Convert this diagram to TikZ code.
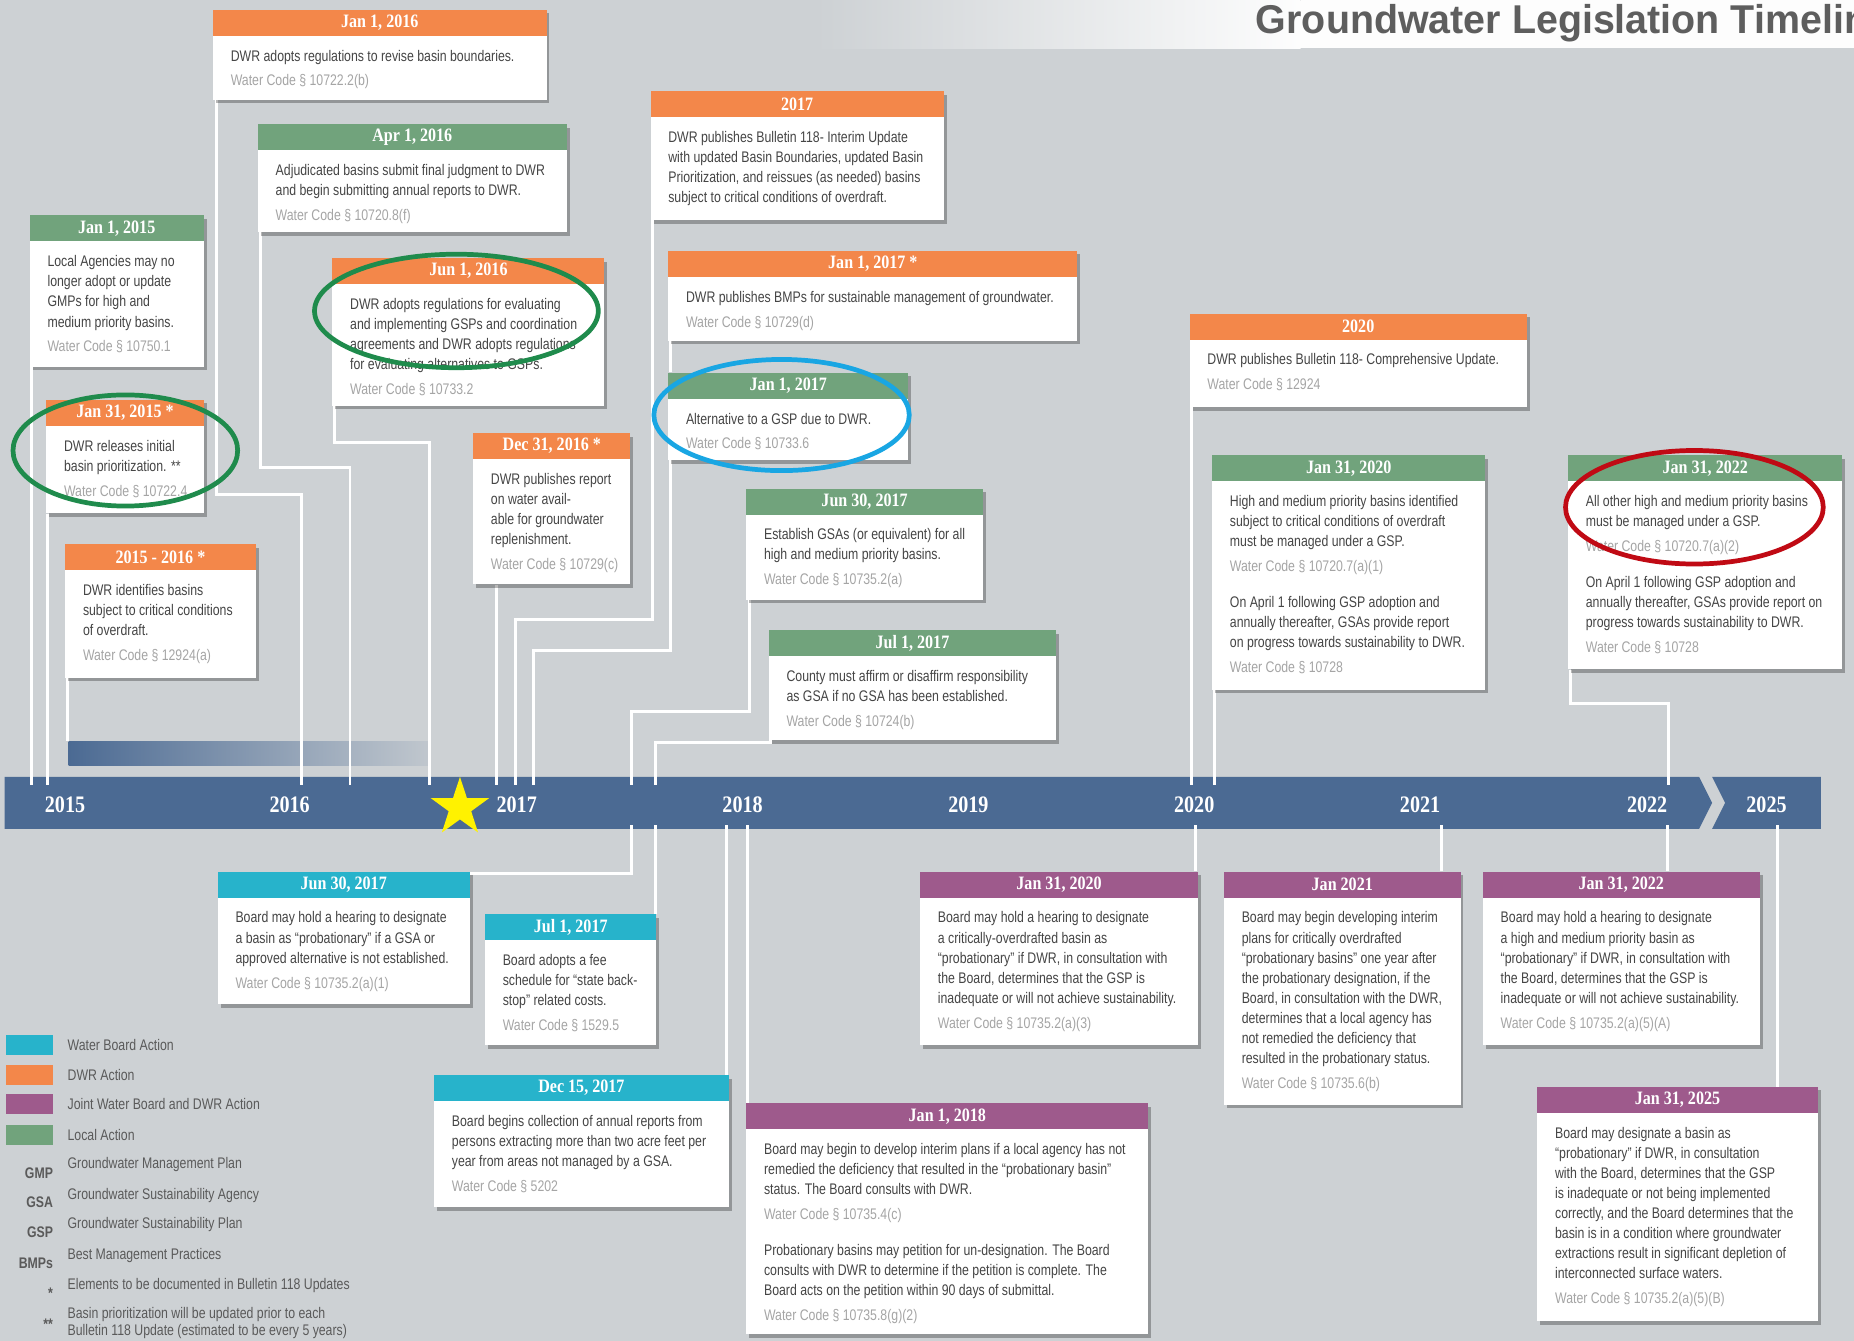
\documentclass[tikz,border=0pt]{standalone}
\usepackage{fontspec}
\setmainfont{Liberation Sans}
\newfontfamily\bodyfnt[FakeStretch=0.8]{Liberation Sans}
\newfontfamily\headfnt[FakeStretch=0.85]{Liberation Serif}
\newfontfamily\titlefnt[FakeStretch=0.98]{Liberation Sans}
\usetikzlibrary{shadows,shapes.geometric}
\pgfdeclarelayer{bgl}
\pgfdeclarelayer{conl}
\pgfsetlayers{bgl,conl,main}
\definecolor{bg}{HTML}{CDD1D4}
\definecolor{barblue}{HTML}{4B6A93}
\definecolor{cOr}{HTML}{F3874A}
\definecolor{cGr}{HTML}{71A37C}
\definecolor{cCy}{HTML}{27B3CB}
\definecolor{cPu}{HTML}{9E5A8C}
\definecolor{txtgray}{HTML}{454545}
\definecolor{codegray}{HTML}{A5A5A5}
\definecolor{leggray}{HTML}{5A5A5A}
\definecolor{titlegray}{HTML}{5E5E5E}
\definecolor{ringgreen}{HTML}{1F8B4C}
\definecolor{ringblue}{HTML}{19A6E3}
\definecolor{ringred}{HTML}{C00A14}
\definecolor{gold}{HTML}{FFF200}
\newcommand\cd[1]{\textcolor{codegray}{Water Code § #1}}
\tikzset{
  tlbody/.style={fill=white, inner sep=0pt, drop shadow={shadow xshift=2.5pt, shadow yshift=-3pt, fill=black, opacity=0.28}},
  tlhead/.style={inner sep=0pt, minimum height=22pt, text=white, font=\headfnt\bfseries\fontsize{16}{16}\selectfont},
  tltext/.style={inner sep=0pt, align=left, text=txtgray, font=\bodyfnt\fontsize{13}{17}\selectfont},
  conn/.style={draw=white, line width=2.5pt},
  yearlbl/.style={text=white, inner sep=0pt, font=\headfnt\bfseries\fontsize{20}{20}\selectfont},
  ring/.style={line width=4pt},
  swatch/.style={inner sep=0pt, minimum width=40pt, minimum height=17pt},
  legtext/.style={inner sep=0pt, align=left, text=leggray, font=\bodyfnt\fontsize{13}{14}\selectfont},
  abbr/.style={inner sep=0pt, text=leggray, font=\bodyfnt\bfseries\fontsize{13}{13}\selectfont}
}
\newcommand\tlbox[8]{%
  \node[tlbody, minimum width=#4pt, minimum height=#5pt, anchor=north west] (#1) at (#2,#3) {};
  \node[tlhead, fill=#6, minimum width=#4pt, anchor=north west] (#1h) at (#1.north west) {#7};
  \node[tltext, anchor=north west] (#1t) at ([xshift=15pt,yshift=-10pt]#1h.south west) {\rule{0pt}{11pt}#8};
}
\begin{document}
\begin{tikzpicture}[x=1pt,y=-1pt]
\begin{pgfonlayer}{bgl}
\fill[bg] (0,0) rectangle (1568,1134);
% banner
\shade[left color=bg, right color=white!96!bg] (690,0) rectangle (1100,41);
\fill[white!96!bg] (1100,0) rectangle (1568,41);
% period bar
\shade[left color=barblue, middle color=barblue!80!bg, right color=bg!90!barblue] (58,627) rectangle (362,647);
% timeline bar
\fill[barblue] (4,657) -- (1437,657) -- (1448,679) -- (1437,701) -- (4,701) -- cycle;
\fill[barblue] (1448,657) -- (1540,657) -- (1540,701) -- (1448,701) -- (1459,679) -- cycle;
\end{pgfonlayer}
\useasboundingbox (0,0) rectangle (1568,1134);
\begin{scope}
\clip (0,0) rectangle (1568,1134);
\node[anchor=base west, inner sep=0pt, text=titlegray, font=\titlefnt\bfseries\fontsize{34}{34}\selectfont] (title) at (1062,28) {Groundwater Legislation Timeline};
\end{scope}
\node[inner sep=0pt, minimum width=304pt, minimum height=20pt, anchor=north west] (grad) at (58,627) {};
\coordinate (bart) at (0,664);
\coordinate (barb) at (0,698);
% boxes
\tlbox{jan16}{180}{8}{282}{76}{cOr}{Jan 1, 2016}{DWR adopts regulations to revise basin boundaries.\\[4pt]\cd{10722.2(b)}}
\tlbox{apr16}{218}{105}{261}{91}{cGr}{Apr 1, 2016}{Adjudicated basins submit final judgment to DWR\\and begin submitting annual reports to DWR.\\[4pt]\cd{10720.8(f)}}
\tlbox{jan15}{25}{182}{147}{128}{cGr}{Jan 1, 2015}{Local Agencies may no\\longer adopt or update\\GMPs for high and\\medium priority basins.\\[4pt]\cd{10750.1}}
\tlbox{jun16}{281}{218}{230}{125}{cOr}{Jun 1, 2016}{DWR adopts regulations for evaluating\\and implementing GSPs and coordination\\agreements and DWR adopts regulations\\for evaluating alternatives to GSPs.\\[4pt]\cd{10733.2}}
\tlbox{jant}{39}{338}{133}{96}{cOr}{Jan 31, 2015 *}{DWR releases initial\\basin prioritization. **\\[4pt]\cd{10722.4}}
\tlbox{ysix}{55}{460}{161}{113}{cOr}{2015 - 2016 *}{DWR identifies basins\\subject to critical conditions\\of overdraft.\\[4pt]\cd{12924(a)}}
\tlbox{dec16}{400}{366}{133}{128}{cOr}{Dec 31, 2016 *}{DWR publishes report\\on water avail-\\able for groundwater\\replenishment.\\[4pt]\cd{10729(c)}}
\tlbox{yseven}{550}{77}{248}{109}{cOr}{2017}{DWR publishes Bulletin 118- Interim Update\\with updated Basin Boundaries, updated Basin\\Prioritization, and reissues (as needed) basins\\subject to critical conditions of overdraft.}
\tlbox{jans}{565}{212}{346}{76}{cOr}{Jan 1, 2017 *}{DWR publishes BMPs for sustainable management of groundwater.\\[4pt]\cd{10729(d)}}
\tlbox{jang}{565}{315}{203}{74}{cGr}{Jan 1, 2017}{Alternative to a GSP due to DWR.\\[4pt]\cd{10733.6}}
\tlbox{junthg}{631}{413}{200}{94}{cGr}{Jun 30, 2017}{Establish GSAs (or equivalent) for all\\high and medium priority basins.\\[4pt]\cd{10735.2(a)}}
\tlbox{julg}{650}{533}{243}{93}{cGr}{Jul 1, 2017}{County must affirm or disaffirm responsibility\\as GSA if no GSA has been established.\\[4pt]\cd{10724(b)}}
\tlbox{ytwenty}{1006}{265}{285}{79}{cOr}{2020}{DWR publishes Bulletin 118- Comprehensive Update.\\[4pt]\cd{12924}}
\tlbox{jtwg}{1025}{385}{231}{198}{cGr}{Jan 31, 2020}{High and medium priority basins identified\\subject to critical conditions of overdraft\\must be managed under a GSP.\\[4pt]\cd{10720.7(a)(1)}\\[13pt]On April 1 following GSP adoption and\\annually thereafter, GSAs provide report\\on progress towards sustainability to DWR.\\[4pt]\cd{10728}}
\tlbox{jttg}{1326}{385}{232}{181}{cGr}{Jan 31, 2022}{All other high and medium priority basins\\must be managed under a GSP.\\[4pt]\cd{10720.7(a)(2)}\\[13pt]On April 1 following GSP adoption and\\annually thereafter, GSAs provide report on\\progress towards sustainability to DWR.\\[4pt]\cd{10728}}
\tlbox{junthc}{184}{737}{213}{112}{cCy}{Jun 30, 2017}{Board may hold a hearing to designate\\a basin as “probationary” if a GSA or\\approved alternative is not established.\\[4pt]\cd{10735.2(a)(1)}}
\tlbox{julc}{410}{773}{145}{111}{cCy}{Jul 1, 2017}{Board adopts a fee\\schedule for “state back-\\stop” related costs.\\[4pt]\cd{1529.5}}
\tlbox{decc}{367}{909}{249}{112}{cCy}{Dec 15, 2017}{Board begins collection of annual reports from\\persons extracting more than two acre feet per\\year from areas not managed by a GSA.\\[4pt]\cd{5202}}
\tlbox{jtwp}{778}{737}{235}{147}{cPu}{Jan 31, 2020}{Board may hold a hearing to designate\\a critically-overdrafted basin as\\“probationary” if DWR, in consultation with\\the Board, determines that the GSP is\\inadequate or will not achieve sustainability.\\[4pt]\cd{10735.2(a)(3)}}
\tlbox{jtop}{1035}{737}{200}{197}{cPu}{Jan 2021}{Board may begin developing interim\\plans for critically overdrafted\\“probationary basins” one year after\\the probationary designation, if the\\Board, in consultation with the DWR,\\determines that a local agency has\\not remedied the deficiency that\\resulted in the probationary status.\\[4pt]\cd{10735.6(b)}}
\tlbox{jttp}{1254}{737}{234}{147}{cPu}{Jan 31, 2022}{Board may hold a hearing to designate\\a high and medium priority basin as\\“probationary” if DWR, in consultation with\\the Board, determines that the GSP is\\inadequate or will not achieve sustainability.\\[4pt]\cd{10735.2(a)(5)(A)}}
\tlbox{jeip}{631}{933}{340}{195}{cPu}{Jan 1, 2018}{Board may begin to develop interim plans if a local agency has not\\remedied the deficiency that resulted in the “probationary basin”\\status. The Board consults with DWR.\\[4pt]\cd{10735.4(c)}\\[13pt]Probationary basins may petition for un-designation. The Board\\consults with DWR to determine if the petition is complete. The\\Board acts on the petition within 90 days of submittal.\\[4pt]\cd{10735.8(g)(2)}}
\tlbox{jtfp}{1300}{919}{237}{198}{cPu}{Jan 31, 2025}{Board may designate a basin as\\“probationary” if DWR, in consultation\\with the Board, determines that the GSP\\is inadequate or not being implemented\\correctly, and the Board determines that the\\basin is in a condition where groundwater\\extractions result in significant depletion of\\interconnected surface waters.\\[4pt]\cd{10735.2(a)(5)(B)}}
% connectors
\begin{pgfonlayer}{conl}
\draw[conn] ([xshift=2pt]jan15.south west) -- ([xshift=2pt]jan15.south west |- bart);
\draw[conn] ([xshift=1pt]jant.south west) -- ([xshift=1pt]jant.south west |- bart);
\draw[conn] ([xshift=2pt]ysix.south west) -- ([xshift=2pt]ysix.south west |- grad.north);
\draw[conn] ([xshift=3pt]jan16.south west) |- (255,418) -- (255,0 |- bart);
\draw[conn] ([xshift=2pt]apr16.south west) |- (296,395) -- (296,0 |- bart);
\draw[conn] ([xshift=2pt]jun16.south west) |- (363,374) -- (363,0 |- bart);
\draw[conn] ([xshift=20pt]dec16.south west) -- ([xshift=20pt]dec16.south west |- bart);
\draw[conn] ([xshift=1.5pt]yseven.south west) |- (436,524) -- (436,0 |- bart);
\draw[conn] ([xshift=2pt]jans.south west) -- ([xshift=2pt]jang.north west);
\draw[conn] ([xshift=2pt]jang.south west) |- (451,550) -- (451,0 |- bart);
\draw[conn] ([xshift=3pt]junthg.south west) |- (534,602) -- (534,0 |- bart);
\draw[conn] ([xshift=2pt,yshift=6pt]julg.south west) |- (554,628) -- (554,0 |- bart);
\draw[conn] ([xshift=2pt]ytwenty.south west) -- ([xshift=2pt]ytwenty.south west |- bart);
\draw[conn] ([xshift=2pt]jtwg.south west) -- ([xshift=2pt]jtwg.south west |- bart);
\draw[conn] ([xshift=2pt]jttg.south west) |- (1411,595) -- (1411,0 |- bart);
% bottom
\draw[conn] ([yshift=-1.5pt]junthc.north east) -| (534,0 |- barb);
\draw[conn] ([xshift=-1pt]julc.north east) -- ([xshift=-1pt]julc.north east |- barb);
\draw[conn] ([xshift=-2pt]decc.north east) -- ([xshift=-2pt]decc.north east |- barb);
\draw[conn] ([xshift=1.5pt]jeip.north west) -- ([xshift=1.5pt]jeip.north west |- barb);
\draw[conn] ([xshift=-2pt]jtwp.north east) -- ([xshift=-2pt]jtwp.north east |- barb);
\draw[conn] ([xshift=184pt]jtop.north west) -- ([xshift=184pt]jtop.north west |- barb);
\draw[conn] ([xshift=156pt]jttp.north west) -- ([xshift=156pt]jttp.north west |- barb);
\draw[conn] ([xshift=203pt]jtfp.north west) -- ([xshift=203pt]jtfp.north west |- barb);
\end{pgfonlayer}
% year labels
\node[yearlbl] (y15) at (55,681) {2015};
\node[yearlbl] (y16) at (245,681) {2016};
\node[yearlbl] (y17) at (437,681) {2017};
\node[yearlbl] (y18) at (628,681) {2018};
\node[yearlbl] (y19) at (819,681) {2019};
\node[yearlbl] (y20) at (1010,681) {2020};
\node[yearlbl] (y21) at (1201,681) {2021};
\node[yearlbl] (y22) at (1393,681) {2022};
\node[yearlbl] (y25) at (1494,681) {2025};
% star
\node[star, star points=5, star point ratio=2.6, fill=gold, minimum size=52pt, inner sep=0pt] (goldstar) at (389,683) {};
% rings
\draw[ring, ringgreen] (386,263) ellipse [x radius=120, y radius=48];
\draw[ring, ringgreen] (106,381) ellipse [x radius=95, y radius=47];
\draw[ring, ringblue] (661,351) ellipse [x radius=108, y radius=47];
\draw[ring, ringred] (1433,429) ellipse [x radius=109, y radius=48];
% legend
\node[swatch, fill=cCy] (lgA) at (25,884) {};
\node[swatch, fill=cOr] (lgB) at (25,909) {};
\node[swatch, fill=cPu] (lgC) at (25,934) {};
\node[swatch, fill=cGr] (lgD) at (25,960) {};
\node[legtext, anchor=west] (lgAt) at (57,884) {Water Board Action};
\node[legtext, anchor=west] (lgBt) at (57,909) {DWR Action};
\node[legtext, anchor=west] (lgCt) at (57,934) {Joint Water Board and DWR Action};
\node[legtext, anchor=west] (lgDt) at (57,960) {Local Action};
\node[abbr, anchor=east] (abA) at (45,992) {GMP};
\node[abbr, anchor=east] (abB) at (45,1017) {GSA};
\node[abbr, anchor=east] (abC) at (45,1042) {GSP};
\node[abbr, anchor=east] (abD) at (45,1068) {BMPs};
\node[abbr, anchor=east] (abE) at (45,1094) {*};
\node[abbr, anchor=east] (abF) at (45,1120) {**};
\node[legtext, anchor=west] (abAt) at (57,985) {Groundwater Management Plan};
\node[legtext, anchor=west] (abBt) at (57,1011) {Groundwater Sustainability Agency};
\node[legtext, anchor=west] (abCt) at (57,1036) {Groundwater Sustainability Plan};
\node[legtext, anchor=west] (abDt) at (57,1062) {Best Management Practices};
\node[legtext, anchor=west] (abEt) at (57,1087) {Elements to be documented in Bulletin 118 Updates};
\node[legtext, anchor=west] (abFt) at (57,1119) {Basin prioritization will be updated prior to each\\Bulletin 118 Update (estimated to be every 5 years)};
\end{tikzpicture}
\end{document}
